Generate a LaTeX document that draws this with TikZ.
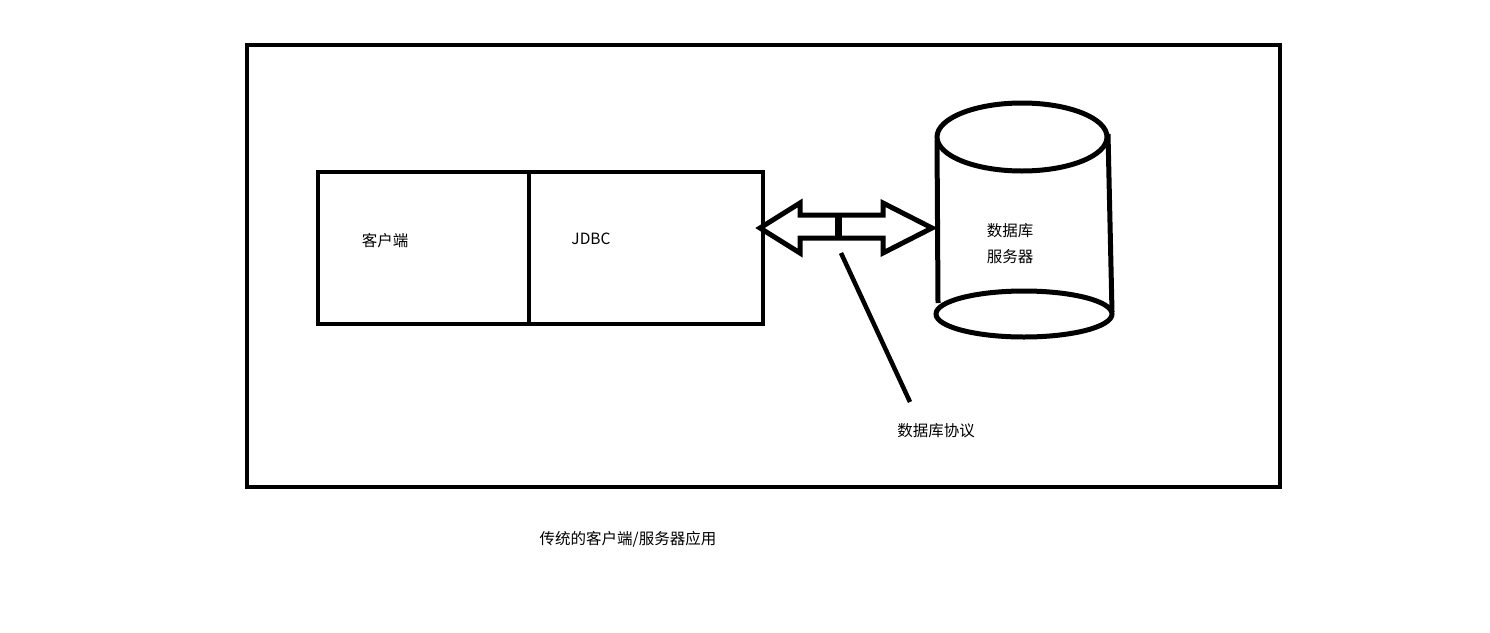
\documentclass[tikz,border=0pt]{standalone}
\usepackage{fontspec}
\setmainfont{Noto Sans CJK SC}
\usetikzlibrary{positioning}

\begin{document}
\begin{tikzpicture}[x=1pt,y=-1pt,
  thick line/.style={line width=4.5pt},
  box/.style={draw,line width=4.5pt,inner sep=0pt,outer sep=0pt,minimum height=152pt},
  lbl/.style={font=\fontsize{15.5}{26}\selectfont,inner sep=0pt,align=center}]
\useasboundingbox (0,0) rectangle (1490,632);
% frame
\draw[thick line] (247,45) rectangle (1280,487);
% client + jdbc
\node[box,minimum width=211pt,anchor=north west] (client) at (318,172) {};
\node[box,minimum width=234pt,anchor=west] (jdbc) at (client.east) {};
\node[lbl] (clientlbl) at (385,241) {客户端};
\node[lbl] (jdbclbl) at (591,239) {JDBC};
% database
\draw[line width=5pt] (1022,137) ellipse (85 and 34);
\draw[line width=5pt] (1024,314) ellipse (88 and 23);
\draw[line width=5pt] (937,140) -- (938,303);
\draw[line width=5pt] (1108,134) -- (1112,312);
\node[lbl] (db) at (1010,244) {数据库\\服务器};
% protocol arrow
\draw[line width=5pt,line join=miter]
  (760,228) -- (800,203) -- (800,215) -- (883,215) -- (883,203) -- (932,228)
  -- (883,253) -- (883,238) -- (800,238) -- (800,253) -- cycle;
\draw[line width=7pt] (838,215) -- (838,238);
\node[lbl] (protolbl) at (936,431) {数据库协议};
\coordinate (ptr) at (841,253);
\draw[thick line] (ptr) -- (910,402);
% caption
\node[lbl] (caption) at (628,539) {传统的客户端/服务器应用};
\end{tikzpicture}
\end{document}
